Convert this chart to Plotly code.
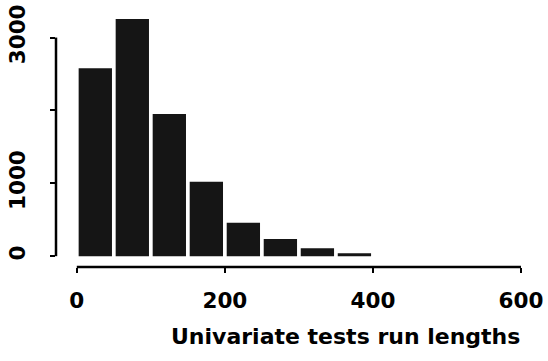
import plotly.graph_objects as go

# Histogram data (bin width 50)
bin_centers = [25, 75, 125, 175, 225, 275, 325, 375]
counts = [2580, 3255, 1950, 1020, 460, 235, 110, 40]

x_ticks = [0, 200, 400, 600]
x_tick_text = ["0", "200", "400", "600"]
y_ticks = [0, 1000, 2000, 3000]
y_tick_text = ["0", "1000", "", "3000"]
x_title = "Univariate tests run lengths"

FONT = dict(family="DejaVu Sans", size=21.5, color="black", weight="bold")

fig = go.Figure()
fig.add_trace(go.Bar(
    x=bin_centers, y=counts, width=45,
    marker=dict(color="#151515", line=dict(width=0)),
    showlegend=False,
))

fig.update_layout(
    width=548, height=361,
    margin=dict(l=53, r=8, t=5, b=94),
    paper_bgcolor="white", plot_bgcolor="white",
    font=FONT,
    xaxis=dict(range=[-28.1, 623], tickvals=x_ticks, ticktext=x_tick_text,
               ticks="outside", ticklen=5, tickwidth=2, tickcolor="black",
               showgrid=False, zeroline=False, showline=False,
               tickfont=FONT, ticklabelstandoff=9),
    yaxis=dict(range=[-148.6, 3392], tickvals=y_ticks, ticktext=y_tick_text,
               ticks="outside", ticklen=5, tickwidth=2, tickcolor="black",
               showgrid=False, zeroline=False, showline=False,
               tickangle=-90, tickfont=FONT, ticklabelstandoff=16),
    shapes=[
        dict(type="line", xref="x", yref="paper", x0=x_ticks[0], x1=x_ticks[-1],
             y0=0, y1=0, line=dict(color="black", width=2.5)),
        dict(type="line", xref="paper", yref="y", x0=0, x1=0,
             y0=y_ticks[0], y1=y_ticks[-1], line=dict(color="black", width=2.5)),
    ],
    annotations=[dict(text=x_title, xref="paper", yref="paper", x=0.6016, y=-0.269,
                      xanchor="center", yanchor="middle", showarrow=False,
                      font=dict(family="DejaVu Sans", size=22, color="black", weight="bold"))],
)

fig.write_html("out.html")
